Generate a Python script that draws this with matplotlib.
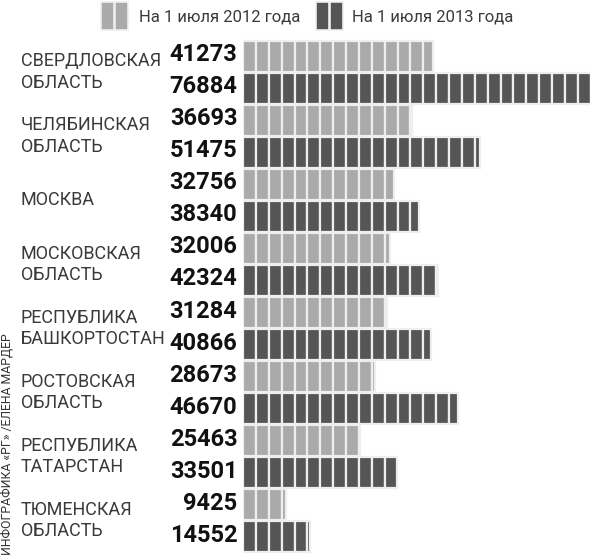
import matplotlib
matplotlib.use("Agg")
import matplotlib.pyplot as plt
import matplotlib.transforms as mtransforms
from matplotlib.patches import Rectangle
import numpy as np

plt.rcParams['font.family'] = ['Roboto', 'DejaVu Sans']

# данные
regions = ["СВЕРДЛОВСКАЯ\nОБЛАСТЬ", "ЧЕЛЯБИНСКАЯ\nОБЛАСТЬ", "МОСКВА",
           "МОСКОВСКАЯ\nОБЛАСТЬ", "РЕСПУБЛИКА\nБАШКОРТОСТАН", "РОСТОВСКАЯ\nОБЛАСТЬ",
           "РЕСПУБЛИКА\nТАТАРСТАН", "ТЮМЕНСКАЯ\nОБЛАСТЬ"]
vals_2012 = [41273, 36693, 32756, 32006, 31284, 28673, 25463, 9425]
vals_2013 = [76884, 51475, 38340, 42324, 40866, 46670, 33501, 14552]
legend_labels = ["На 1 июля 2012 года", "На 1 июля 2013 года"]
credit = "ИНФОГРАФИКА «РГ» /ЕЛЕНА МАРДЕР"

light = "#aaaaaa"
dark = "#555555"
seg = 2800  # ширина одного "кирпичика"

W, H = 590, 558
fig = plt.figure(figsize=(W / 100, H / 100), dpi=100)
ax = fig.add_axes([243 / W, 0, 1 - 243 / W, 1])

# пиксельная раскладка -> данные: центр группы = 72 + 64.1*g
pitch = 64.1
ax.set_ylim((H - 72) / pitch, -72 / pitch)
ax.set_xlim(0, (W - 243) / 0.0046)
ax.axis('off')

off = 16 / pitch
bh = 31 / pitch


def draw_bar(y, value, color):
    starts = np.arange(0, value, seg)
    widths = np.minimum(seg, value - starts)
    ax.barh(np.full(len(starts), y), widths, left=starts, height=bh,
            color=color, edgecolor="#eeeeee", linewidth=1.6, align='center')


for g in range(len(regions)):
    draw_bar(g - off, vals_2012[g], light)
    draw_bar(g + off, vals_2013[g], dark)
    for yy, v in [(g - off, vals_2012[g]), (g + off, vals_2013[g])]:
        ax.annotate(str(v), xy=(0, yy), xytext=(-4, 1),
                    textcoords='offset points', ha='right', va='center',
                    fontsize=17, fontweight='bold', color='#111111',
                    annotation_clip=False)

trans = mtransforms.blended_transform_factory(fig.transFigure, ax.transData)
for g, name in enumerate(regions):
    ax.text(21 / W, g, name, transform=trans, ha='left', va='center',
            fontsize=13, linespacing=1.25, color='#3a3a3a',
            clip_on=False)

# легенда
fy0 = 1 - 30 / H
fh = 28 / H
for x0, col in [(101, light), (316, dark)]:
    for k in range(2):
        fig.patches.append(Rectangle(((x0 + k * 14) / W, fy0), 13 / W, fh,
                                     transform=fig.transFigure, facecolor=col,
                                     edgecolor='#eeeeee', linewidth=1.2))
fig.text(139 / W, 1 - 17 / H, legend_labels[0], ha='left', va='center',
         fontsize=12, color='#3a3a3a')
fig.text(352 / W, 1 - 17 / H, legend_labels[1], ha='left', va='center',
         fontsize=12, color='#3a3a3a')

fig.text(7 / W, 3 / H, credit, rotation=90, ha='center', va='bottom',
         fontsize=8.8, color='#333333')

fig.savefig("out.png", dpi=100, facecolor='white')
